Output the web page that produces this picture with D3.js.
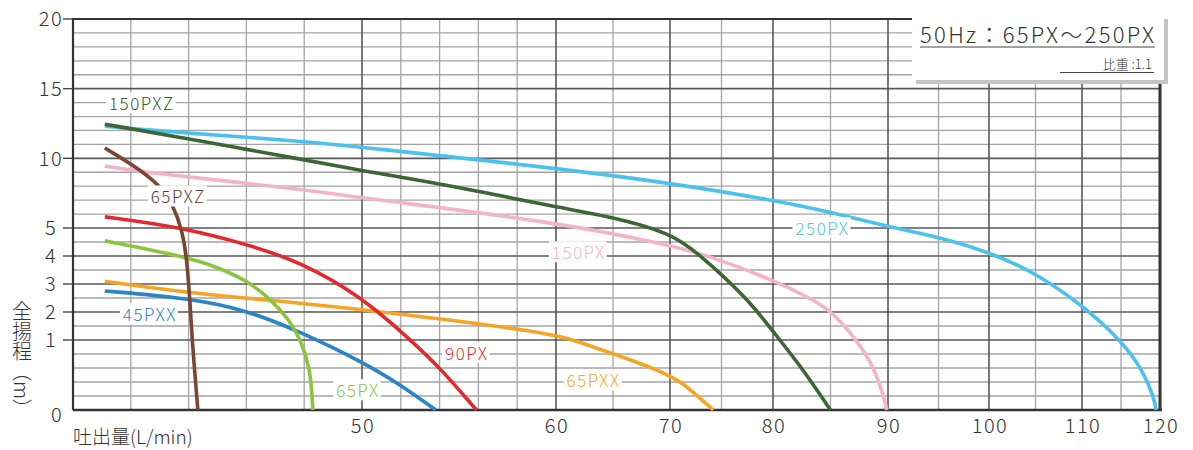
<!DOCTYPE html>
<html>
<head>
<meta charset="utf-8">
<script src="https://cdn.jsdelivr.net/npm/d3@7"></script>
<style>
  body { margin: 0; background: #fff; }
  svg { display: block; font-family: "Noto Sans CJK JP", "Noto Sans", sans-serif; }
</style>
</head>
<body>
<svg id="chart" width="1193" height="450"></svg>
<script>
"use strict";

// pump curves: flow (L/min) / total head (m)
var flow250PX = [5.5, 20, 39.3, 50, 60, 70, 80, 85, 90, 95, 100, 105, 110, 115, 117.8, 119.3, 119.5];
var head250PX = [12.3, 11.8, 11.25, 10.8, 9.3, 8.23, 7.0, 6.15, 5.1, 4.68, 4.14, 3.4, 2.25, 1.0, 0.57, 0.15, 0];

var flow150PXZ = [5.5, 20, 39.3, 50, 54, 60, 65, 70, 72.5, 77.5, 80, 82.4, 85];
var head150PXZ = [12.45, 11.4, 9.95, 9.1, 8.2, 6.5, 5.79, 4.82, 4.18, 2.5, 1.3, 0.63, 0];

var flow150PX = [5.5, 13.3, 39.3, 50, 60, 70, 73.8, 80, 83.2, 85, 87.3, 88.8, 89.7, 89.9];
var head150PX = [9.45, 8.95, 7.8, 7.15, 5.43, 4.39, 4.0, 3.15, 2.5, 2.07, 1.0, 0.61, 0.15, 0];

var flow65PXZ = [5.5, 10.4, 15.05, 17.3, 18.9, 19.7, 20.2, 20.6, 21.6];
var head65PXZ = [10.74, 9.52, 8.09, 6.65, 4.93, 3.86, 2.5, 1.0, 0];

var flow90PX = [5.5, 18.5, 30.6, 39.3, 50, 52.5, 54, 55.9];
var head90PX = [5.8, 5.07, 4.39, 3.79, 2.54, 1.0, 0.61, 0];

var flow65PX = [5.5, 19.7, 25, 30.1, 34, 37.5, 39.3, 41, 41.4, 41.5];
var head65PX = [4.54, 3.96, 3.6, 3.12, 2.5, 1.7, 1.04, 0.61, 0.15, 0];

var flow65PXX = [5.5, 20, 39.3, 51.7, 59.8, 62.2, 70, 72.2, 74.2];
var head65PXX = [3.1, 2.68, 2.32, 1.96, 1.25, 0.96, 0.53, 0.26, 0];

var flow45PXX = [5.5, 19.7, 30.1, 39.3, 50, 52, 53.8];
var head45PXX = [2.75, 2.5, 2.07, 1.29, 0.69, 0.36, 0];

var xTickLabels = [50, 60, 70, 80, 90, 100, 110, 120];
var yTickLabels = [0, 1, 2, 3, 4, 5, 10, 15, 20];
var xMajor = [50, 60, 70, 80, 90, 100, 110];
var xMinor = [10, 20, 30, 40, 52, 54, 56, 58, 65, 75, 85, 95, 105, 115];
var yMajor = [1, 2, 3, 4, 5, 10, 15];
var yMinor = [0.2, 0.4, 0.6, 0.8, 1.5, 2.5, 3.5, 4.5, 6, 7, 8, 9, 11, 12, 13, 14, 16, 17, 18, 19];

var series = [
    { name: '250PX', flow: flow250PX, head: head250PX, color: '#4dc1ee', lx: 84.3, ly: 4.96 },
    { name: '150PX', flow: flow150PX, head: head150PX, color: '#f2b4c8', lx: 62.0, ly: 4.1 },
    { name: '150PXZ', flow: flow150PXZ, head: head150PXZ, color: '#3c6634', lx: 11.9, ly: 13.9, text: '#35552f' },
    { name: '65PXX', flow: flow65PXX, head: head65PXX, color: '#f4a526', lx: 63.3, ly: 0.41 },
    { name: '45PXX', flow: flow45PXX, head: head45PXX, color: '#2b84c6', lx: 13.3, ly: 1.89 },
    { name: '65PX', flow: flow65PX, head: head65PX, color: '#8cc43f', lx: 49.3, ly: 0.27 },
    { name: '90PX', flow: flow90PX, head: head90PX, color: '#e1292f', lx: 55.4, ly: 0.8 },
    { name: '65PXZ', flow: flow65PXZ, head: head65PXZ, color: '#7a4634', lx: 18.2, ly: 7.2, text: '#5b3d30' }
];

// the sheet uses a broken scale on both axes
var x = d3.scaleLinear()
    .domain([0, 50, 60, 70, 80, 90, 100, 110, 120])
    .range([73, 362, 556, 670, 773, 888, 989, 1082, 1160]);
var y = d3.scaleLinear()
    .domain([0, 1, 5, 20])
    .range([410, 340, 228, 19]);

var svg = d3.select('#chart');

function hLines(g, vals, color, w) {
    g.selectAll(null).data(vals).enter().append('line')
        .attr('x1', x(0)).attr('x2', x(120))
        .attr('y1', function (d) { return y(d); }).attr('y2', function (d) { return y(d); })
        .attr('stroke', color).attr('stroke-width', w);
}
function vLines(g, vals, color, w) {
    g.selectAll(null).data(vals).enter().append('line')
        .attr('y1', y(0)).attr('y2', y(20))
        .attr('x1', function (d) { return x(d); }).attr('x2', function (d) { return x(d); })
        .attr('stroke', color).attr('stroke-width', w);
}

// grid
var grid = svg.append('g');
hLines(grid, yMinor, '#a4a4a4', 1.3);
vLines(grid, xMinor, '#a4a4a4', 1.3);
hLines(grid, yMajor, '#585858', 1.6);
vLines(grid, xMajor, '#585858', 1.6);

// frame
svg.append('line').attr('x1', x(0)).attr('x2', x(120)).attr('y1', y(20)).attr('y2', y(20))
    .attr('stroke', '#333').attr('stroke-width', 2);
svg.append('line').attr('x1', x(0)).attr('x2', x(120) + 2).attr('y1', y(0)).attr('y2', y(0))
    .attr('stroke', '#333').attr('stroke-width', 2.5);
svg.append('line').attr('x1', x(0)).attr('x2', x(0)).attr('y1', y(20) - 1).attr('y2', y(0))
    .attr('stroke', '#333').attr('stroke-width', 2.2);
svg.append('line').attr('x1', x(120)).attr('x2', x(120)).attr('y1', y(20)).attr('y2', y(0) + 1)
    .attr('stroke', '#333').attr('stroke-width', 3);

// y ticks
var yt = svg.append('g');
yt.selectAll('line').data(yTickLabels.filter(function (d) { return d > 0; })).enter().append('line')
    .attr('x1', x(0) - 10).attr('x2', x(0))
    .attr('y1', function (d) { return y(d); }).attr('y2', function (d) { return y(d); })
    .attr('stroke', '#444').attr('stroke-width', 1.4);
yt.selectAll('text').data(yTickLabels).enter().append('text')
    .attr('x', function (d) { return d === 0 ? 57 : 51; })
    .attr('y', function (d) { return d === 0 ? y(d) + 5 : y(d); })
    .attr('dy', '0.36em')
    .attr('text-anchor', 'middle')
    .attr('font-size', 20).attr('font-weight', 300)
    .attr('letter-spacing', 1.5)
    .attr('fill', '#333')
    .text(function (d) { return d; });

// x ticks
svg.append('g').selectAll('text').data(xTickLabels).enter().append('text')
    .attr('x', function (d) { return x(d) + 1; })
    .attr('y', 433)
    .attr('text-anchor', 'middle')
    .attr('font-size', 20).attr('font-weight', 300)
    .attr('letter-spacing', 1.5)
    .attr('fill', '#333')
    .text(function (d) { return d; });

// axis titles
svg.append('text')
    .attr('x', 73).attr('y', 444)
    .attr('font-size', 19).attr('font-weight', 300)
    .attr('fill', '#333')
    .text('吐出量(L/min)');
svg.append('text')
    .attr('x', 22).attr('y', 301)
    .style('writing-mode', 'vertical-rl')
    .attr('font-size', 20).attr('font-weight', 300)
    .attr('fill', '#333')
    .text('全揚程（m）');

// curves, smoothed
var line = d3.line()
    .x(function (d) { return x(d[0]); })
    .y(function (d) { return y(d[1]); })
    .curve(d3.curveBasis);

svg.append('g').selectAll('path').data(series).enter().append('path')
    .attr('d', function (s) { return line(d3.zip(s.flow, s.head)); })
    .attr('fill', 'none')
    .attr('stroke', function (s) { return s.color; })
    .attr('stroke-width', 3.6);

// curve labels on white patches
var labels = svg.append('g').selectAll('g').data(series).enter().append('g')
    .attr('transform', function (s) { return 'translate(' + x(s.lx) + ',' + y(s.ly) + ')'; });
labels.append('text')
    .attr('text-anchor', 'middle')
    .attr('dy', '0.36em')
    .attr('font-size', 17).attr('font-weight', 300)
    .attr('letter-spacing', 1.5)
    .attr('fill', function (s) { return s.text || s.color; })
    .text(function (s) { return s.name; });
labels.each(function () {
    var g = d3.select(this);
    var b = g.select('text').node().getBBox();
    g.insert('rect', 'text')
        .attr('x', b.x - 3).attr('y', b.y + 2)
        .attr('width', b.width + 4).attr('height', b.height - 4)
        .attr('fill', '#fff');
});

// title box
var box = svg.append('g');
box.append('rect').attr('x', 916).attr('y', 19).attr('width', 252).attr('height', 65).attr('fill', '#c4c4c4');
box.append('rect').attr('x', 912).attr('y', 15).attr('width', 252).attr('height', 65).attr('fill', '#fff');
box.append('text')
    .attr('x', 920).attr('y', 43)
    .attr('font-size', 22).attr('font-weight', 300)
    .attr('textLength', 234).attr('lengthAdjust', 'spacing')
    .attr('fill', '#333')
    .text('50Hz：65PX～250PX');
box.append('line').attr('x1', 920).attr('x2', 1155).attr('y1', 47).attr('y2', 47)
    .attr('stroke', '#444').attr('stroke-width', 1.2);
box.append('text')
    .attr('x', 1152).attr('y', 69)
    .attr('text-anchor', 'end')
    .attr('font-size', 13).attr('font-weight', 300)
    .attr('fill', '#333')
    .text('比重 :1.1');
box.append('line').attr('x1', 1060).attr('x2', 1154).attr('y1', 72.5).attr('y2', 72.5)
    .attr('stroke', '#444').attr('stroke-width', 1.2);
</script>
</body>
</html>
